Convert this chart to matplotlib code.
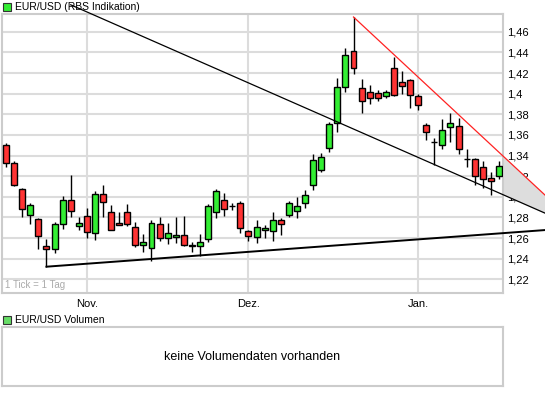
import matplotlib.pyplot as plt
from matplotlib.patches import Rectangle
import numpy as np

plt.rcParams['font.family'] = ['Liberation Sans', 'DejaVu Sans']

# EUR/USD Tageskerzen (1 Tick = 1 Tag)
opens = [1.3505, 1.3329, 1.3078, 1.2827, 1.2781, 1.2521, 1.2493, 1.2734, 1.2967, 1.2716,
         1.2818, 1.2646, 1.3028, 1.2852, 1.2751, 1.2852, 1.2708, 1.2529, 1.2508, 1.2738,
         1.2597, 1.2615, 1.2634, 1.2530, 1.2523, 1.2591, 1.2852, 1.2966, 1.2911, 1.2945,
         1.2665, 1.2615, 1.2674, 1.2669, 1.2779, 1.2821, 1.2866, 1.2940, 1.3113, 1.3260,
         1.3470, 1.3720, 1.4065, 1.4418, 1.4058, 1.4016, 1.4010, 1.3977, 1.4245, 1.4113,
         1.4132, 1.3977, 1.3700, 1.3535, 1.3503, 1.3673, 1.3683, 1.3368, 1.3367, 1.3293,
         1.3184, 1.3200]
highs = [1.3524, 1.3344, 1.3085, 1.2942, 1.2796, 1.2595, 1.2756, 1.3007, 1.3214, 1.2809,
         1.2895, 1.3052, 1.3114, 1.2923, 1.2852, 1.2929, 1.2760, 1.2637, 1.2775, 1.2800,
         1.2745, 1.2806, 1.2812, 1.2560, 1.2643, 1.2929, 1.3074, 1.3037, 1.2945, 1.2960,
         1.2683, 1.2775, 1.2723, 1.2851, 1.2797, 1.2955, 1.2994, 1.3065, 1.3417, 1.3427,
         1.3727, 1.4155, 1.4439, 1.4743, 1.4145, 1.4081, 1.4032, 1.4032, 1.4359, 1.4221,
         1.4145, 1.4000, 1.3720, 1.3570, 1.3750, 1.3810, 1.3760, 1.3460, 1.3377, 1.3343,
         1.3243, 1.3343]
lows = [1.3289, 1.3103, 1.2806, 1.2741, 1.2499, 1.2323, 1.2453, 1.2685, 1.2809, 1.2676,
        1.2601, 1.2582, 1.2800, 1.2674, 1.2723, 1.2714, 1.2514, 1.2462, 1.2382, 1.2575,
        1.2545, 1.2554, 1.2523, 1.2468, 1.2431, 1.2560, 1.2791, 1.2812, 1.2868, 1.2646,
        1.2575, 1.2554, 1.2597, 1.2573, 1.2633, 1.2800, 1.2791, 1.2890, 1.3065, 1.3243,
        1.3437, 1.3633, 1.4019, 1.4187, 1.3817, 1.3903, 1.3927, 1.3960, 1.3977, 1.3993,
        1.3860, 1.3843, 1.3553, 1.3313, 1.3460, 1.3527, 1.3417, 1.3287, 1.3119, 1.3087,
        1.3016, 1.3177]
closes = [1.3329, 1.3112, 1.2883, 1.2920, 1.2623, 1.2493, 1.2734, 1.2967, 1.2864, 1.2744,
          1.2663, 1.3028, 1.2954, 1.2677, 1.2729, 1.2738, 1.2529, 1.2566, 1.2751, 1.2597,
          1.2646, 1.2634, 1.2529, 1.2528, 1.2566, 1.2908, 1.3058, 1.2883, 1.2909, 1.2698,
          1.2622, 1.2705, 1.2695, 1.2775, 1.2736, 1.2940, 1.2910, 1.3016, 1.3360, 1.3387,
          1.3707, 1.4065, 1.4376, 1.4245, 1.3927, 1.3960, 1.3960, 1.4016, 1.3983, 1.4074,
          1.3987, 1.3887, 1.3627, 1.3531, 1.3643, 1.3720, 1.3460, 1.3366, 1.3200, 1.3177,
          1.3150, 1.3300]

month_pos = [10, 30, 51]
month_labels = ['Nov.', 'Dez.', 'Jan.']
y_ticks = [1.22, 1.24, 1.26, 1.28, 1.30, 1.32, 1.34, 1.36, 1.38, 1.40, 1.42, 1.44, 1.46]

# Trendlinien (Index, Kurs)
res_x = [8.0, 66.7]
res_y = [1.4861, 1.2842]
top_x = [43, 66.7]
top_y = [1.4743, 1.3017]
sup_x = [5, 66.7]
sup_y = [1.2323, 1.2678]

W, H = 545, 395
fig = plt.figure(figsize=(W / 100, H / 100), dpi=100)
ax = fig.add_axes([2 / W, 1 - 293 / H, 501 / W, 279 / H])

x = np.arange(len(opens))
o = np.array(opens)
c = np.array(closes)
cols = ['#33ee33' if cc > oo else '#ff3333' for oo, cc in zip(o, c)]

ax.vlines(x, lows, highs, color='black', lw=1, zorder=2)
ax.bar(x, np.abs(c - o), bottom=np.minimum(o, c), width=0.74, color=cols,
       edgecolor='black', linewidth=1, zorder=3)

# Trendkanal
xf = np.linspace(61.5, 66.7, 20)
ax.fill_between(xf, np.interp(xf, res_x, res_y), np.interp(xf, top_x, top_y),
                color='#dddddd', lw=0, clip_on=False, zorder=1)
ax.plot(res_x, res_y, color='black', lw=0.9, clip_on=False, zorder=4)
ax.plot(top_x, top_y, color='#ff2222', lw=0.9, clip_on=False, zorder=4)
ax.plot(sup_x, sup_y, color='black', lw=1.4, clip_on=False, zorder=4)

ax.set_xlim(-0.5, 61.5)
ax.set_ylim(1.2068, 1.4772)
ax.set_yticks(y_ticks)
ax.set_yticklabels([f"{v:.2f}".rstrip('0').replace('.', ',') for v in y_ticks])
ax.set_xticks(month_pos)
ax.set_xticklabels(month_labels)
ax.yaxis.tick_right()
ax.tick_params(axis='both', length=0, labelsize=8)
ax.tick_params(axis='y', pad=3)
ax.tick_params(axis='x', pad=4)
ax.grid(True, color='#dcdcdc', lw=1.5)
ax.set_axisbelow(True)
for s in ax.spines.values():
    s.set_color('#cccccc')
    s.set_linewidth(1.5)
ax.text(0.005, 0.01, '1 Tick = 1 Tag', transform=ax.transAxes, fontsize=7,
        color='#aaaaaa', va='bottom', ha='left')

# Volumen
ax2 = fig.add_axes([2 / W, 1 - 386 / H, 501 / W, 59 / H])
ax2.set_xticks([])
ax2.set_yticks([])
for s in ax2.spines.values():
    s.set_color('#cccccc')
    s.set_linewidth(1.5)
ax2.text(0.5, 0.5, 'keine Volumendaten vorhanden', transform=ax2.transAxes,
         ha='center', va='center', fontsize=9)

# Legenden
fig.patches.append(Rectangle((3 / W, 1 - 11 / H), 8 / W, 8 / H, transform=fig.transFigure,
                             facecolor='#33ee33', edgecolor='#333333', lw=0.8))
fig.text(15 / W, 1 - 7 / H, 'EUR/USD (RBS Indikation)', fontsize=7.5, va='center')
fig.patches.append(Rectangle((3 / W, 1 - 324 / H), 8 / W, 8 / H, transform=fig.transFigure,
                             facecolor='#66dd66', edgecolor='#333333', lw=0.8))
fig.text(15 / W, 1 - 320 / H, 'EUR/USD Volumen', fontsize=7.5, va='center')

fig.savefig('out.png', dpi=100)
